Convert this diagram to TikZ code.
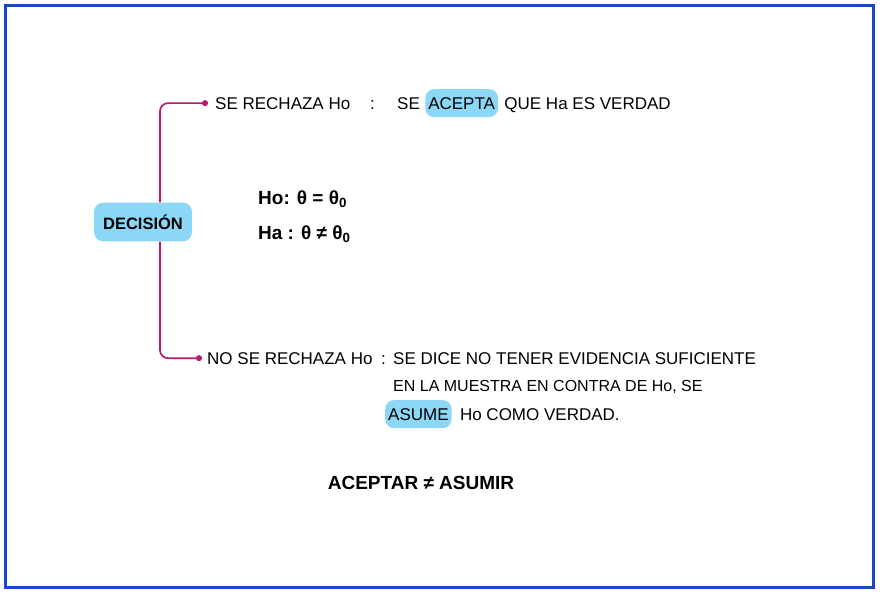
\documentclass[tikz,border=0pt]{standalone}
\usepackage{fontspec}
\setmainfont{Liberation Sans}
\usetikzlibrary{arrows.meta}
\definecolor{frameblue}{RGB}{25,70,200}
\definecolor{hl}{RGB}{140,214,246}
\definecolor{mag}{RGB}{185,25,110}
\begin{document}
\begin{tikzpicture}[x=1pt,y=-1pt,
  txt/.style={inner sep=0pt, font=\fontsize{17}{20}\selectfont, anchor=base west},
  hlbox/.style={txt, fill=hl, rounded corners=9pt, inner xsep=3pt, inner ysep=8pt},
  conn/.style={draw=mag, line width=1.7pt, rounded corners=8pt, -{Circle[length=6pt]}},
  formula/.style={inner sep=0pt, font=\fontsize{19}{22}\selectfont\bfseries, anchor=base west},
]
\useasboundingbox (0,0) rectangle (886,597);
\draw[frameblue, line width=3pt] (5,5) rectangle (873,587);
\coordinate (vx) at (160,0);

% upper branch
\node[txt] (r1) at (215,109) {SE RECHAZA Ho};
\node[txt] (c1) at (370,109) {:};
\node[txt] (s1) at (397,109) {SE};
\node[hlbox] (a1) at ([xshift=5pt]s1.base east) {ACEPTA};
\node[txt] (q1) at ([xshift=6pt]a1.base east) {QUE Ha ES VERDAD};

% hypotheses
\node[formula] (h0) at (258,204) {Ho: θ = θ\textsubscript{0}};
\node[formula] (ha) at (258,239) {Ha : θ ≠ θ\textsubscript{0}};

% decision
\node[hlbox, anchor=center, font=\fontsize{16.5}{18}\selectfont\bfseries, inner xsep=9pt, inner ysep=12pt] (dec) at (143,222) {DECISIÓN};

% lower branch
\node[txt] (r2) at (207,364) {NO SE RECHAZA Ho};
\node[txt] (c2) at (381,364) {:};
\node[txt] (l1) at (393,364) {SE DICE NO TENER EVIDENCIA SUFICIENTE};
\node[txt, font=\fontsize{16}{19}\selectfont] (l2) at (393,391) {EN LA MUESTRA EN CONTRA DE Ho, SE};
\node[hlbox] (a2) at (385,420) {ASUME};
\node[txt] (l3) at ([xshift=8pt]a2.base east) {Ho COMO VERDAD.};

% connectors
\draw[conn] (dec.north -| vx) |- ([xshift=-7pt]r1.west);
\draw[conn] (dec.south -| vx) |- ([xshift=-5pt]r2.west);

% conclusion
\node[formula, anchor=base] (cmp) at (421,489) {ACEPTAR ≠ ASUMIR};
\end{tikzpicture}
\end{document}
